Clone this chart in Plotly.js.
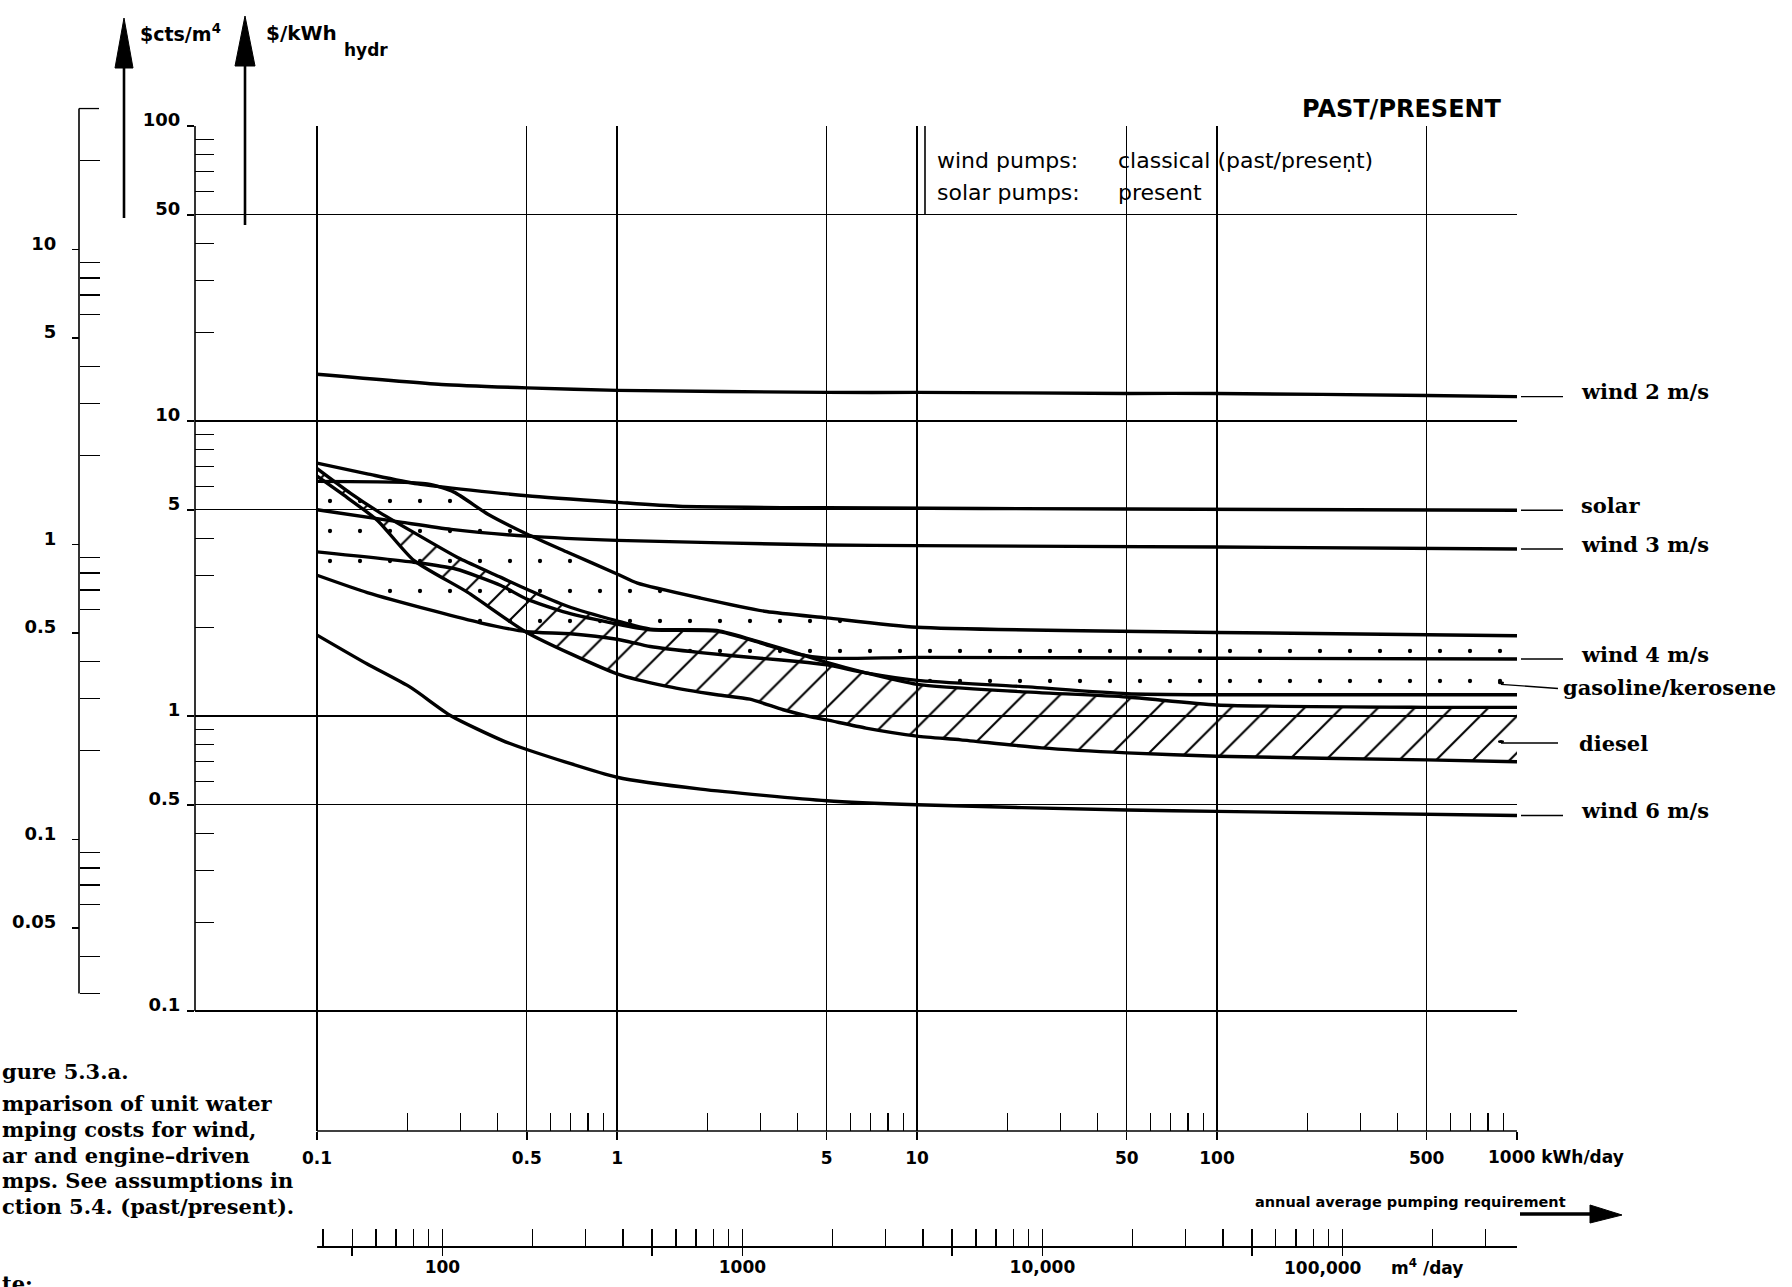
<!DOCTYPE html>
<html><head><meta charset="utf-8">
<script src="https://cdn.plot.ly/plotly-3.0.1.min.js"></script>
<style>html,body{margin:0;padding:0;background:#fff}</style>
</head><body><div id="chart" style="width:1792px;height:1287px"></div>
<script>
// ---------------- data ($/kWh_hydr vs kWh/day) ----------------
const windTwoX   = [0.1, 0.26, 0.5, 1, 5, 10, 50, 100, 500, 1000];
const windTwoY   = [14.4, 13.3, 12.95, 12.7, 12.5, 12.5, 12.4, 12.4, 12.2, 12.1];
const solarX     = [0.1, 0.147, 0.216, 0.5, 1, 1.6, 5, 50, 1000];
const solarY     = [7.2, 6.62, 6.12, 5.58, 5.3, 5.14, 5.08, 5.03, 4.98];
const windThreeX = [0.1, 0.19, 0.28, 0.5, 1, 5, 10, 100, 1000];
const windThreeY = [5.0, 4.54, 4.29, 4.07, 3.94, 3.8, 3.78, 3.74, 3.68];
const windFourX  = [0.1, 0.21, 0.29, 0.41, 0.5, 0.68, 1, 1.29, 2.15, 3, 4, 5, 10, 100, 1000];
const windFourY  = [3.6, 3.32, 3.15, 2.77, 2.49, 2.24, 2.05, 1.96, 1.94, 1.77, 1.62, 1.57, 1.58, 1.57, 1.56];
const windSixX   = [0.1, 0.147, 0.205, 0.28, 0.41, 0.5, 1, 1.9, 5, 10, 50, 100, 1000];
const windSixY   = [1.88, 1.5, 1.25, 1.0, 0.83, 0.77, 0.62, 0.565, 0.516, 0.5, 0.48, 0.475, 0.46];
const gasUpperX  = [0.1, 0.233, 0.286, 0.37, 0.5, 0.684, 1, 1.17, 1.9, 3.15, 5, 10, 100, 1000];
const gasUpperY  = [6.24, 6.12, 5.74, 4.84, 4.14, 3.59, 3.03, 2.82, 2.51, 2.26, 2.15, 2.0, 1.92, 1.87];
const gasLowerX  = [0.1, 0.147, 0.245, 0.35, 0.5, 0.7, 1, 1.29, 1.9, 3, 4, 5, 6.75, 10, 22, 50, 100, 1000];
const gasLowerY  = [3.0, 2.62, 2.27, 2.07, 1.93, 1.9, 1.82, 1.72, 1.64, 1.57, 1.53, 1.49, 1.40, 1.32, 1.26, 1.19, 1.18, 1.18];
const dieselUpperX = [0.1, 0.129, 0.159, 0.205, 0.3, 0.41, 0.5, 0.68, 1, 1.29, 2.15, 3, 4, 5, 6.75, 10, 22, 50, 100, 500, 1000];
const dieselUpperY = [6.9, 5.7, 4.95, 4.25, 3.41, 2.95, 2.69, 2.36, 2.1, 1.97, 1.95, 1.78, 1.63, 1.52, 1.4, 1.28, 1.21, 1.16, 1.09, 1.07, 1.07];
const dieselLowerX = [0.1, 0.126, 0.159, 0.21, 0.317, 0.5, 1, 1.47, 2.15, 2.77, 3.58, 4.5, 5, 6.75, 10, 14, 26, 50, 100, 500, 1000];
const dieselLowerY = [6.5, 5.5, 4.6, 3.37, 2.63, 1.92, 1.39, 1.26, 1.18, 1.14, 1.05, 0.99, 0.97, 0.91, 0.855, 0.83, 0.78, 0.75, 0.73, 0.71, 0.70];

// ticks
const kwhMajor  = [0.1, 0.5, 1, 5, 10, 50, 100, 500, 1000];
const kwhLabels = ['0.1', '0.5', '1', '5', '10', '50', '100', '500', ''];
const kwhLastLabel = '1000 kWh/day';
const kwhMinor  = [0.2,0.3,0.4,0.6,0.7,0.8,0.9, 2,3,4,6,7,8,9, 20,30,40,60,70,80,90, 200,300,400,600,700,800,900];
const costMajor  = [0.1, 0.5, 1, 5, 10, 50, 100];
const costLabels = ['0.1', '0.5', '1', '5', '10', '50', '100'];
const costMinor  = [0.2,0.3,0.4,0.6,0.7,0.8,0.9, 2,3,4,6,7,8,9, 20,30,40,60,70,80,90];
const centMajor  = [0.05, 0.1, 0.5, 1, 5, 10];
const centLabels = ['0.05', '0.1', '0.5', '1', '5', '10'];
const centMinor  = [0.03,0.04,0.06,0.07,0.08,0.09, 0.2,0.3,0.4,0.6,0.7,0.8,0.9, 2,3,4,6,7,8,9, 20,30];
const m4Minor = [40,50,60,70,80,90, 200,300,400,500,600,700,800,900,
                 2000,3000,4000,5000,6000,7000,8000,9000,
                 20000,30000,40000,50000,60000,70000,80000,90000, 200000,300000,400000];
const m4Major = [50, 100, 500, 1000, 5000, 10000, 50000, 100000];
const m4LabelVals = [100, 1000, 10000];
const m4LabelText = ['100', '1000', '10,000'];
const m4LastLabel = '100,000';
const M4_PER_KWH = 382;   // hydraulic kWh -> m^4 (m^3 lifted 1 m), as drawn on the side scales

// ---------------- geometry (pixels) ----------------
const P = {L:79, R:1517, T:100, B:1247, axisX:195, kwhY:1131, topY:126, x01:317, decX:299.75, decY:295};
const fx = p => (p - P.L) / (P.R - P.L);
const fy = p => (P.B - p) / (P.B - P.T);
const lg = Math.log10;
const xRange = [-1 - (P.x01 - P.axisX) / P.decX, 3];
const yRange = [2 - (P.kwhY - P.topY) / P.decY, 2];
const m4Shift = lg(M4_PER_KWH);
const centShift = 2 - lg(M4_PER_KWH);
// pixel row of a $cts/m4 value (same scale as the y axes) - used for the part of that scale above the plot top
const centPx = v => P.topY + (yRange[1] + centShift - lg(v)) * P.decY;

const BLACK = '#000';
const curveLine = {color: BLACK, width: 3.4, shape: 'spline', smoothing: 0.6};

function line(x, y, extra) {
  return Object.assign({type: 'scatter', mode: 'lines', x: x, y: y, line: curveLine, hoverinfo: 'skip', showlegend: false}, extra || {});
}

const traces = [
  line(gasLowerX, gasLowerY),
  line(gasUpperX, gasUpperY, {fill: 'tonexty', fillcolor: 'rgba(0,0,0,0)',
       fillpattern: {shape: '.', fgcolor: BLACK, bgcolor: 'rgba(0,0,0,0)', size: 30, solidity: 0.016}}),
  line(dieselLowerX, dieselLowerY),
  line(dieselUpperX, dieselUpperY, {fill: 'tonexty', fillcolor: 'rgba(0,0,0,0)',
       fillpattern: {shape: '/', fgcolor: BLACK, bgcolor: 'rgba(0,0,0,0)', size: 26, solidity: 0.08}}),
  line(windTwoX, windTwoY),
  line(solarX, solarY),
  line(windThreeX, windThreeY),
  line(windFourX, windFourY),
  line(windSixX, windSixY),
  // empty helper traces so the extra axes get a subplot
  {type: 'scatter', x: [], y: [], xaxis: 'x2', yaxis: 'y', showlegend: false, hoverinfo: 'skip'},
  {type: 'scatter', x: [], y: [], xaxis: 'x3', yaxis: 'y', showlegend: false, hoverinfo: 'skip'},
  {type: 'scatter', x: [], y: [], xaxis: 'x', yaxis: 'y2', showlegend: false, hoverinfo: 'skip'}
];

const sans = (size, weight) => ({family: 'DejaVu Sans', size: size, weight: weight || 'normal', color: BLACK});
const tickFontY = sans(18, 'bold');
const tickFontX = sans(16, 'bold');

// shapes (data-referenced coordinates are plain data values)
const shapes = [];
const L = (o) => shapes.push(Object.assign({type: 'line', line: {color: BLACK, width: 1.6}}, o));
// main $/kWh axis line
L({xref: 'paper', yref: 'y', x0: fx(P.axisX), x1: fx(P.axisX), y0: costMajor[0], y1: costMajor[costMajor.length - 1]});
// kWh/day axis line
L({xref: 'x', yref: 'paper', x0: kwhMajor[0], x1: kwhMajor[kwhMajor.length - 1], y0: fy(P.kwhY), y1: fy(P.kwhY)});
// m4/day axis line
L({xref: 'x2', yref: 'paper', x0: kwhMajor[0] * M4_PER_KWH, x1: m4Minor[m4Minor.length - 1], y0: 0, y1: 0, line: {color: BLACK, width: 2}});
// $cts/m4 axis line (runs above the plot top, so drawn on the page scale)
const centTop = centMinor[centMinor.length - 1];
L({xref: 'paper', yref: 'paper', x0: 0, x1: 0, y0: fy(centPx(centMinor[0])), y1: fy(centPx(centTop))});
L({xref: 'paper', yref: 'paper', x0: 0, x1: fx(P.L + 20), y0: fy(centPx(centTop)), y1: fy(centPx(centTop)), line: {color: BLACK, width: 1.3}});
// inset box left edge (between the 50 and 100 lines)
L({xref: 'paper', yref: 'y', x0: fx(925), x1: fx(925), y0: 50, y1: 100});

// vertical unit arrows at top
function vArrow(xp, tip, base, bottom, half) {
  L({xref: 'paper', yref: 'paper', x0: fx(xp), x1: fx(xp), y0: fy(base), y1: fy(bottom), line: {color: BLACK, width: 2.6}});
  shapes.push({type: 'path', xref: 'paper', yref: 'paper', fillcolor: BLACK, line: {color: BLACK, width: 1},
    path: `M${fx(xp - half)},${fy(base)} L${fx(xp + half)},${fy(base)} L${fx(xp)},${fy(tip)} Z`});
}
vArrow(124, 18, 68, 218, 9);
vArrow(245, 16, 66, 225, 10);
// horizontal arrow under "annual average pumping requirement"
L({xref: 'paper', yref: 'paper', x0: fx(1520), x1: fx(1596), y0: fy(1214), y1: fy(1214), line: {color: BLACK, width: 3.5}});
shapes.push({type: 'path', xref: 'paper', yref: 'paper', fillcolor: BLACK, line: {color: BLACK, width: 1},
  path: `M${fx(1590)},${fy(1205)} L${fx(1622)},${fy(1215)} L${fx(1590)},${fy(1223)} Z`});

// right-hand labels with leader lines
const annotations = [];
const serif = {family: 'DejaVu Serif', size: 21, weight: 'bold', color: BLACK};
const seriesLabels = [
  ['wind 2 m/s', windTwoY], ['solar', solarY], ['wind 3 m/s', windThreeY],
  ['wind 4 m/s', windFourY], ['wind 6 m/s', windSixY]
];
seriesLabels.forEach(([txt, ys]) => {
  const v = ys[ys.length - 1];
  L({xref: 'paper', yref: 'y', x0: fx(1521), x1: fx(1563), y0: v, y1: v, line: {color: BLACK, width: 1.4}});
  annotations.push({xref: 'paper', yref: 'y', x: fx(1579), y: lg(v), text: txt, showarrow: false,
    xanchor: 'left', yanchor: 'middle', yshift: 5, font: serif});
});
// band labels: leader starts at a dot inside the band
const bandLabels = [
  ['gasoline/kerosene', 1.28, 1.24, 1.21, 1561],
  ['diesel', 0.81, 0.81, 0.78, 1577]
];
bandLabels.forEach(([txt, vStart, vEnd, vText, xText]) => {
  L({xref: 'paper', yref: 'y', x0: fx(1501), x1: fx(1558), y0: vStart, y1: vEnd, line: {color: BLACK, width: 1.4}});
  shapes.push({type: 'circle', xref: 'paper', yref: 'y', xsizemode: 'pixel', ysizemode: 'pixel',
    xanchor: fx(1501), yanchor: vStart, x0: -3, x1: 3, y0: -3, y1: 3, fillcolor: BLACK, line: {width: 0}});
  annotations.push({xref: 'paper', yref: 'y', x: fx(xText), y: lg(vText), text: txt, showarrow: false,
    xanchor: 'left', yanchor: 'middle', yshift: 4, font: serif});
});

function txt(t, xp, yp, font, xanchor) {
  annotations.push({xref: 'paper', yref: 'paper', x: fx(xp), y: fy(yp), text: t, showarrow: false,
    xanchor: xanchor || 'left', yanchor: 'middle', font: font});
}
txt('$cts/m<sup>4</sup>', 138, 33, sans(19, 'bold'));
txt('$/kWh', 264, 33, sans(20, 'bold'));
txt('hydr', 342, 50, sans(17, 'bold'));
txt('PAST/PRESENT', 1504, 109, sans(24, 'bold'), 'right');
txt('wind pumps:', 935, 161, sans(22));
txt('classical (past/presen\u0323t)', 1116, 161, sans(22));
txt('solar pumps:', 935, 192, sans(22));
txt('present', 1116, 192, sans(22));
txt(kwhLastLabel, 1486, 1157, sans(17, 'bold'));
txt(m4LastLabel + '&nbsp;&nbsp;&nbsp;&nbsp; m<sup>4</sup> /day', 1282, 1267, sans(17, 'bold'));
txt('annual average pumping requirement', 1568, 1202, sans(14.5, 'bold'), 'right');

const captionFont = {family: 'DejaVu Serif', size: 21, weight: 'bold', color: BLACK};
const caption = ['gure 5.3.a.', 'mparison of unit water', 'mping costs for wind,', 'ar and engine\u2013driven',
                 'mps. See assumptions in', 'ction 5.4. (past/present).'];
const captionY = [1071, 1103, 1129, 1155, 1180, 1206];
caption.forEach((c, i) => txt(c, 0, captionY[i], captionFont));
txt('te:', 0, 1283, captionFont);

const layout = {
  width: 1792, height: 1287,
  margin: {l: P.L, r: 1792 - P.R, t: P.T, b: 1287 - P.B, pad: 0},
  paper_bgcolor: '#fff', plot_bgcolor: 'rgba(0,0,0,0)',
  showlegend: false,
  font: {family: 'DejaVu Sans', color: BLACK},
  xaxis: {type: 'log', range: xRange, domain: [fx(P.axisX), 1], anchor: 'y',
    showline: false, zeroline: false,
    tickmode: 'array', tickvals: kwhMajor, ticktext: kwhLabels,
    ticks: 'outside', ticklen: 8, tickwidth: 1.5, tickcolor: BLACK,
    showgrid: true, gridcolor: BLACK, gridwidth: 1.3,
    minor: {tickmode: 'array', tickvals: kwhMinor, ticks: 'inside', ticklen: 18, tickwidth: 1.3, tickcolor: BLACK, showgrid: false},
    tickfont: sans(17, 'bold'), ticklabelstandoff: 4},
  xaxis2: {type: 'log', range: [xRange[0] + m4Shift, xRange[1] + m4Shift], overlaying: 'x', anchor: 'free', position: 0, side: 'bottom',
    showline: false, zeroline: false, showgrid: false,
    tickmode: 'array', tickvals: m4LabelVals, ticktext: m4LabelText,
    ticks: 'inside', ticklen: 18, tickwidth: 1.3, tickcolor: BLACK,
    minor: {tickmode: 'array', tickvals: m4Minor.concat([100000]), ticks: 'inside', ticklen: 18, tickwidth: 1.3, tickcolor: BLACK, showgrid: false},
    tickfont: sans(17, 'bold'), ticklabelstandoff: 8},
  xaxis3: {type: 'log', range: [xRange[0] + m4Shift, xRange[1] + m4Shift], overlaying: 'x', anchor: 'free', position: 0, side: 'bottom',
    showline: false, zeroline: false, showgrid: false, showticklabels: false,
    tickmode: 'array', tickvals: m4Major, ticks: 'outside', ticklen: 8, tickwidth: 1.5, tickcolor: BLACK},
  yaxis: {type: 'log', range: yRange, domain: [fy(P.kwhY), fy(P.topY)], anchor: 'x',
    showline: false, zeroline: false,
    tickmode: 'array', tickvals: costMajor, ticktext: costLabels,
    ticks: 'outside', ticklen: 7, tickwidth: 1.5, tickcolor: BLACK,
    showgrid: true, gridcolor: BLACK, gridwidth: 1.3,
    minor: {tickmode: 'array', tickvals: costMinor, ticks: 'inside', ticklen: 19, tickwidth: 1.3, tickcolor: BLACK, showgrid: false},
    tickfont: tickFontY, ticklabelstandoff: 3, ticklabelshift: -6},
  yaxis2: {type: 'log', range: [yRange[0] + centShift, yRange[1] + centShift], overlaying: 'y', anchor: 'free', position: 0, side: 'left',
    showline: false, zeroline: false, showgrid: false,
    tickmode: 'array', tickvals: centMajor, ticktext: centLabels,
    ticks: 'outside', ticklen: 7, tickwidth: 1.5, tickcolor: BLACK,
    minor: {tickmode: 'array', tickvals: centMinor, ticks: 'inside', ticklen: 20, tickwidth: 1.3, tickcolor: BLACK, showgrid: false},
    tickfont: tickFontY, ticklabelstandoff: 12, ticklabelshift: -6},
  shapes: shapes,
  annotations: annotations
};

Plotly.newPlot('chart', traces, layout, {staticPlot: true, displayModeBar: false});
</script>
</body></html>
